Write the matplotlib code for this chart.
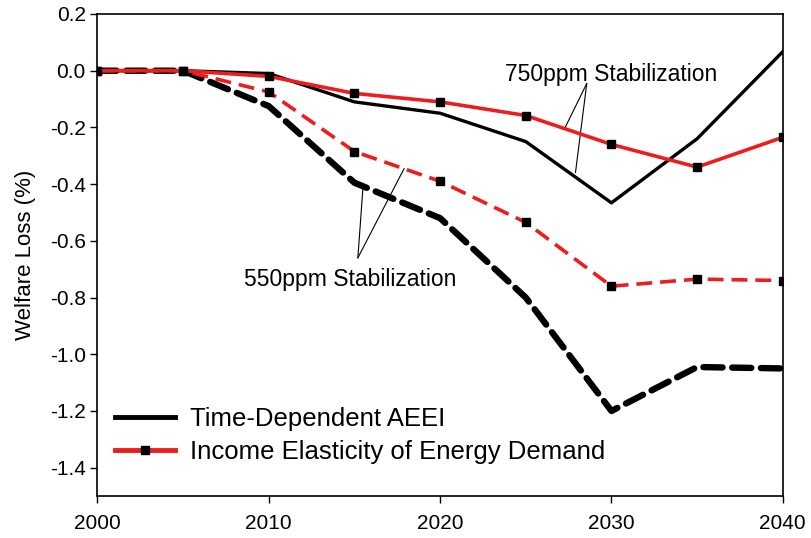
"""
Welfare loss under 550ppm / 750ppm stabilization: AEEI vs income elasticity.
"""

import matplotlib
matplotlib.use('Agg')
import matplotlib.pyplot as plt

plt.rcParams['font.family'] = ['Liberation Sans', 'DejaVu Sans']

# ============================================================
# data
# ============================================================
years = [2000, 2005, 2010, 2015, 2020, 2025, 2030, 2035, 2040]

aeei_750 = [0.0, 0.0, -0.01, -0.11, -0.15, -0.25, -0.466, -0.24, 0.067]
income_750 = [0.0, 0.0, -0.02, -0.08, -0.11, -0.158, -0.26, -0.34, -0.235]
aeei_550 = [0.0, 0.0, -0.125, -0.395, -0.52, -0.80, -1.20, -1.045, -1.05]
income_550 = [0.0, 0.0, -0.075, -0.285, -0.39, -0.535, -0.76, -0.735, -0.74]

xticks = [2000, 2010, 2020, 2030, 2040]
yticks = [0.2, 0.0, -0.2, -0.4, -0.6, -0.8, -1.0, -1.2, -1.4]
# ============================================================

RED = '#ee1c1c'
BLACK = '#000000'

fig = plt.figure(figsize=(8.12, 5.38), dpi=100)
ax = fig.add_axes([0.120, 0.078, 0.844, 0.896])

# 550ppm (dashed)
ax.plot(years, aeei_550, color=BLACK, lw=4.6, dashes=(3.0, 1.5),
        dash_capstyle='round', zorder=3)
ax.plot(years, income_550, color=RED, lw=2.6, dashes=(4.4, 2.2),
        marker='s', ms=6, mfc=BLACK, mec=BLACK, zorder=4)

# 750ppm (solid)
ax.plot(years, aeei_750, color=BLACK, lw=2.4, zorder=3,
        label='Time-Dependent AEEI')
ax.plot(years, income_750, color=RED, lw=2.6, marker='s', ms=6,
        mfc=BLACK, mec=BLACK, zorder=4,
        label='Income Elasticity of Energy Demand')

# callouts
line_kw = dict(arrowstyle='-', color=BLACK, lw=0.8, shrinkA=0, shrinkB=0)
ax.text(2030.0, -0.014, '750ppm Stabilization', ha='center', va='center',
        fontsize=16.5)
for tgt in [(2027.3, -0.20), (2027.9, -0.36)]:
    ax.annotate('', xy=tgt, xytext=(2028.56, -0.045), arrowprops=line_kw)

ax.text(2014.73, -0.735, '550ppm Stabilization', ha='center', va='center',
        fontsize=16.5)
for tgt in [(2015.5, -0.41), (2017.9, -0.345)]:
    ax.annotate('', xy=tgt, xytext=(2015.2, -0.66), arrowprops=line_kw)

# axes styling
ax.set_xlim(2000, 2040)
ax.set_ylim(-1.5, 0.2)
ax.set_xticks(xticks)
ax.set_yticks(yticks)
ax.set_yticklabels([f'{v:.1f}' for v in yticks])
ax.tick_params(axis='both', direction='out', length=5, width=1,
               labelsize=15, top=False, right=False)
ax.tick_params(axis='x', pad=8)
ax.set_ylabel('Welfare Loss (%)', fontsize=16, labelpad=10)

for spine in ax.spines.values():
    spine.set_linewidth(1.2)

leg = ax.legend(loc='lower left', frameon=False, fontsize=18.5,
                handlelength=2.3, handletextpad=0.6, numpoints=1,
                labelspacing=0.35, bbox_to_anchor=(0.0, 0.03),
                borderaxespad=0.3)
for h in leg.get_lines():
    h.set_linewidth(3.5)

fig.savefig('out.png', dpi=100)
